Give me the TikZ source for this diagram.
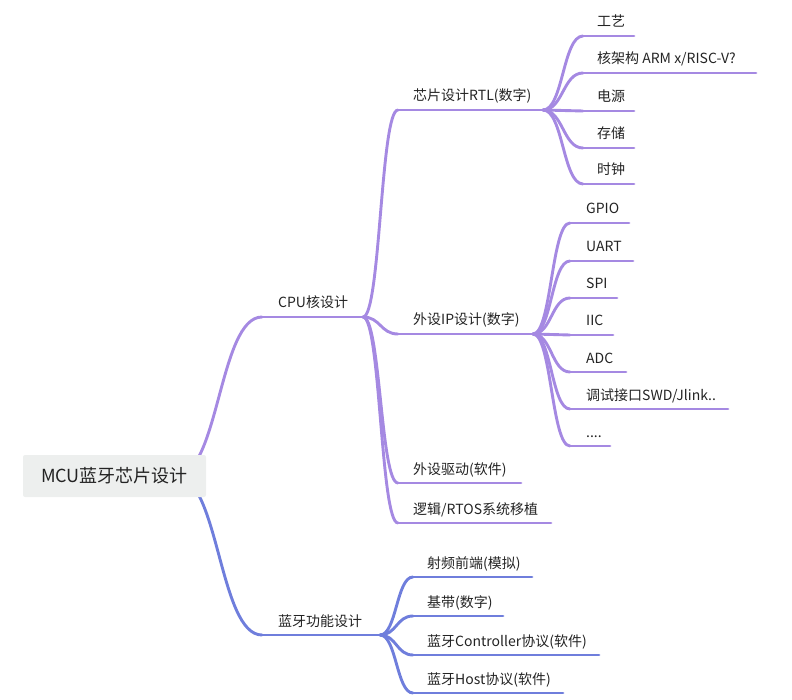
\documentclass[tikz,border=0pt]{standalone}
\usepackage{fontspec}
\setmainfont{Noto Sans CJK SC}
\usetikzlibrary{calc}
\definecolor{cpu}{RGB}{165,137,226}
\definecolor{bt}{RGB}{111,126,220}
\definecolor{txt}{RGB}{35,35,35}
\definecolor{rootbg}{RGB}{237,239,238}
\begin{document}
\begin{tikzpicture}[x=1pt,y=-1pt,
  lbl/.style={anchor=base west, inner sep=0pt, font=\fontsize{14}{16}\selectfont, text=txt},
  ul/.style={line width=2.9pt, line cap=round},
  br/.style={line width=2.9pt, line cap=round,
    to path={let \p1=(\tikztostart),\p2=(\tikztotarget) in
      .. controls ({0.5*\x1+0.5*\x2},\y1) and ({0.5*\x1+0.5*\x2},\y2) .. (\tikztotarget)}}]
\useasboundingbox (0,0) rectangle (792,700);

% ---------- coordinates ----------
\coordinate (rootR) at (176,476);
\coordinate (cpuS) at (262,317); \coordinate (cpuE) at (363,317);
\coordinate (btS) at (262,635);  \coordinate (btE) at (380,635);

\coordinate (rtlS) at (398,110); \coordinate (rtlE) at (543,110);
\coordinate (ipS) at (398,334);  \coordinate (ipE) at (533,334);
\coordinate (drvS) at (398,483); \coordinate (drvE) at (521,483);
\coordinate (logS) at (398,523); \coordinate (logE) at (551,523);

\coordinate (gyS) at (583,36);  \coordinate (gyE) at (634,36);
\coordinate (arS) at (583,73);  \coordinate (arE) at (756,73);
\coordinate (dyS) at (583,111); \coordinate (dyE) at (634,111);
\coordinate (ccS) at (583,148); \coordinate (ccE) at (634,148);
\coordinate (szS) at (583,184); \coordinate (szE) at (634,184);

\coordinate (gpS) at (570,223); \coordinate (gpE) at (629,223);
\coordinate (uaS) at (570,261); \coordinate (uaE) at (633,261);
\coordinate (spS) at (570,298); \coordinate (spE) at (617,298);
\coordinate (iiS) at (570,335); \coordinate (iiE) at (613,335);
\coordinate (adS) at (570,372); \coordinate (adE) at (626,372);
\coordinate (dbS) at (570,409); \coordinate (dbE) at (728,409);
\coordinate (moS) at (570,446); \coordinate (moE) at (610,446);

\coordinate (rfS) at (413,577); \coordinate (rfE) at (532,577);
\coordinate (bbS) at (413,616); \coordinate (bbE) at (503,616);
\coordinate (ctS) at (413,655); \coordinate (ctE) at (599,655);
\coordinate (hoS) at (413,693); \coordinate (hoE) at (563,693);

% ---------- connectors ----------
\draw[br,cpu] (rootR) to (cpuS);
\draw[br,bt] (rootR) to (btS);
\draw[ul,cpu] (cpuS) -- (cpuE);
\draw[ul,bt] (btS) -- (btE);

\foreach \c in {rtl,ip,drv,log}{
  \draw[br,cpu] (cpuE) to (\c S);
  \draw[ul,cpu] (\c S) -- (\c E);
}
\foreach \c in {gy,ar,dy,cc,sz}{
  \draw[br,cpu] (rtlE) to (\c S);
  \draw[ul,cpu] (\c S) -- (\c E);
}
\foreach \c in {gp,ua,sp,ii,ad,db,mo}{
  \draw[br,cpu] (ipE) to (\c S);
  \draw[ul,cpu] (\c S) -- (\c E);
}
\foreach \c in {rf,bb,ct,ho}{
  \draw[br,bt] (btE) to (\c S);
  \draw[ul,bt] (\c S) -- (\c E);
}

% ---------- root ----------
\node (root) [fill=rootbg, rounded corners=2pt, minimum width=183pt, minimum height=42pt,
  inner sep=0pt, text=txt, font=\fontsize{18}{20}\selectfont] at (114.5,476) {MCU蓝牙芯片设计};

% ---------- labels ----------
\node[lbl] (cpu) at (278,308) {CPU核设计};
\node[lbl] (bt) at (278,626) {蓝牙功能设计};

\node[lbl] (rtl) at (413,101) {芯片设计RTL(数字)};
\node[lbl] (ip) at (413,325) {外设IP设计(数字)};
\node[lbl] (drv) at (413,474) {外设驱动(软件)};
\node[lbl] (log) at (413,514) {逻辑/RTOS系统移植};

\node[lbl] (gy) at (597,27) {工艺};
\node[lbl] (ar) at (597,64) {核架构 ARM x/RISC-V?};
\node[lbl] (dy) at (597,102) {电源};
\node[lbl] (cc) at (597,139) {存储};
\node[lbl] (sz) at (597,175) {时钟};

\node[lbl] (gp) at (586,214) {GPIO};
\node[lbl] (ua) at (586,252) {UART};
\node[lbl] (sp) at (586,289) {SPI};
\node[lbl] (ii) at (586,326) {IIC};
\node[lbl] (ad) at (586,363) {ADC};
\node[lbl] (db) at (586,400) {调试接口SWD/Jlink..};
\node[lbl] (mo) at (586,437) {....};

\node[lbl] (rf) at (427,568) {射频前端(模拟)};
\node[lbl] (bb) at (427,607) {基带(数字)};
\node[lbl] (ct) at (427,646) {蓝牙Controller协议(软件)};
\node[lbl] (ho) at (427,684) {蓝牙Host协议(软件)};
\end{tikzpicture}
\end{document}
